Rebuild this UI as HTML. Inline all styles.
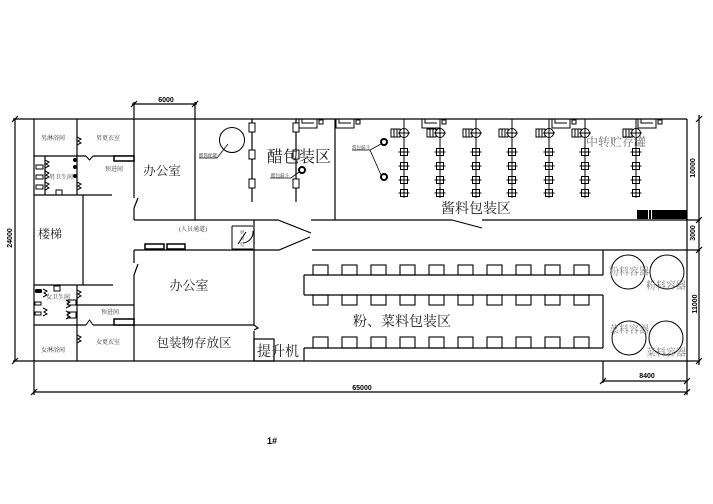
<!DOCTYPE html>
<html><head><meta charset="utf-8">
<style>
html,body{margin:0;padding:0;background:#fff;}
svg{display:block;}
.cn{font-family:"Liberation Serif","Noto Serif CJK SC",serif;}
.dim{font-family:"Liberation Sans",sans-serif;font-weight:bold;font-size:7px;}
</style></head><body>
<svg width="713" height="504" viewBox="0 0 713 504" xmlns="http://www.w3.org/2000/svg">
<rect width="713" height="504" fill="#fff"/>
<defs>
<g id="col" stroke="#000" stroke-width="1" fill="none">
<line x1="0" y1="0" x2="0" y2="79"/>
<rect x="-13" y="10" width="9" height="8" fill="#fff"/>
<line x1="-10" y1="10" x2="-10" y2="18"/><line x1="-7" y1="10" x2="-7" y2="18"/>
<circle cx="0" cy="14" r="4.5" fill="#fff"/>
<line x1="-6" y1="14" x2="6" y2="14"/><line x1="0" y1="8" x2="0" y2="20"/>
<rect x="-3.5" y="29.5" width="7" height="7" fill="#fff"/><line x1="-5.5" y1="33" x2="5.5" y2="33"/><line x1="0" y1="28" x2="0" y2="38"/>
<rect x="-3.5" y="43.5" width="7" height="7" fill="#fff"/><line x1="-5.5" y1="47" x2="5.5" y2="47"/><line x1="0" y1="42" x2="0" y2="52"/>
<rect x="-3.5" y="57.5" width="7" height="7" fill="#fff"/><line x1="-5.5" y1="61" x2="5.5" y2="61"/><line x1="0" y1="56" x2="0" y2="66"/>
<rect x="-3.5" y="70.5" width="7" height="7" fill="#fff"/><line x1="-5.5" y1="74" x2="5.5" y2="74"/><line x1="0" y1="69" x2="0" y2="79"/>
</g>
<g id="sink" stroke="#000" stroke-width="1" fill="none">
<path d="M0 0 V9 H18 V0"/><path d="M3 0 V4 H15"/>
<rect x="20" y="1" width="4" height="4"/>
</g>
</defs>

<g stroke="#000" stroke-width="1.2" fill="none">
<!-- outline & dimensions -->
<path d="M13 119 H687 M34 119 V395 M687 119 V395 M13 361 H700"/>
<path d="M15 119 V361 M12 122 L18 116 M12 364 L18 358"/>
<path d="M134 102 V119 M195 102 V119 M132 104 H197 M131 107 L137 101 M192 107 L198 101"/>
<path d="M699 115 V365 M696 122 L702 116 M696 223 L702 217 M696 253 L702 247 M696 364 L702 358 M687 220 H700 M687 250 H700"/>
<path d="M34 392 H687 M31 395 L37 389 M684 395 L690 389"/>
<path d="M603 361 V383 M603 381 H687 M600 384 L606 378 M684 384 L690 378"/>

<!-- left wing -->
<path d="M77 119 V195 M77 285 V361"/>
<path d="M34 156 H86 M93 156 H134"/>
<path d="M45 156 V195"/>
<path d="M34 195 H112"/>
<path d="M83 195 V285"/>
<path d="M34 285 H113"/>
<path d="M77 305 H134"/>
<path d="M34 325 H86 M93 325 H254"/>
<path d="M134 119 V198 M134 208 V220 M134 208 L138 198"/>
<path d="M134 250 V263 M134 275 V361 M134 275 L138 264"/>
<path d="M195 119 V220"/>
<!-- door bumps -->
<path d="M77 137 l4 2 l-3 2 l3 2 l-4 2 M77 182 l4 2 l-3 2 l3 2 l-4 2 M86 156 l3.5 4 l3.5 -4" stroke-width="1"/>
<path d="M45 160 l4 2 l-3 2 l3 2 l-4 2 M45 171 l4 2 l-3 2 l3 2 l-4 2 M45 182 l4 2 l-3 2 l3 2 l-4 2" stroke-width="1"/>
<path d="M77 290 l4 2 l-3 2 l3 2 l-4 2 M77 335 l4 2 l-3 2 l3 2 l-4 2 M86 325 l3.5 -5 l3.5 5" stroke-width="1"/>
<path d="M43 289 l4 2 l-3 2 l3 2 l-4 2 M43 308 l4 2 l-3 2 l3 2 l-4 2 M66 300 l4 2 l-3 2 l3 2 l-4 2 M66 311 l4 2 l-3 2 l3 2 l-4 2" stroke-width="1"/>
<path d="M68 300 H76 V305 H68 Z M68 312 H76 V318 H68 Z" stroke-width="1"/>
<path d="M36 165 h7 v4 h-7 z M36 175 h7 v4 h-7 z M36 185 h7 v4 h-7 z" stroke-width="1"/>
<path d="M56 190 h6 v5 h-6 z M35 302 h6 v3 h-6 z M35 312 h6 v3 h-6 z M54 286 h6 v5 h-6 z" stroke-width="1"/>

<!-- corridor -->
<path d="M134 220 H278 L311 233"/>
<path d="M134 250 H279 L310 237"/>
<path d="M311 220 H452 M482 220 H687"/>
<path d="M312 250 H687"/>
<path d="M452 220 L482 228" stroke-width="1"/>
<path d="M232 226 V249 M232 226 H253 M232 249 H253" stroke-width="1"/>
<path d="M253 231 A11 11 0 0 1 243 243 M238 244 L246 232" stroke-width="1"/>
<!-- upper left equipment lines -->
<path d="M252 119 V202 M296 119 V202"/>
<path d="M254 220 V325 M254 331 V361 M254 325 l4 3 l-4 2" />
<path d="M335 119 V220"/>
<g stroke-width="1" fill="#fff">
<rect x="249" y="123" width="6" height="9"/><rect x="249" y="150" width="6" height="9"/><rect x="249" y="179" width="6" height="9"/>
<rect x="293" y="123" width="6" height="9"/><rect x="293" y="150" width="6" height="9"/><rect x="293" y="179" width="6" height="9"/>
</g>
<circle cx="232" cy="140" r="12.5" stroke-width="1"/>
<path d="M228 144 L217 158 H199" stroke-width="0.8"/>
<circle cx="302" cy="170" r="3" stroke-width="2"/>
<path d="M299 172 L291 178 H270" stroke-width="0.8"/>
<circle cx="384" cy="142" r="3" stroke-width="2"/>
<circle cx="384" cy="177" r="3" stroke-width="2"/>
<path d="M381 144 L370 150 L381 175 M370 150 H352" stroke-width="0.8"/>

<!-- production lower -->
<path d="M304 275 H603 M304 295 H603 M304 275 V295"/>
<path d="M603 250 V275 M603 295 V348"/>
<path d="M304 348 H603 M304 348 V361"/>
<rect x="254" y="339" width="20" height="22"/>
<g stroke-width="1.1">
<rect x="313" y="265" width="15" height="10"/><rect x="342" y="265" width="15" height="10"/><rect x="371" y="265" width="15" height="10"/><rect x="400" y="265" width="15" height="10"/><rect x="429" y="265" width="15" height="10"/><rect x="458" y="265" width="15" height="10"/><rect x="487" y="265" width="15" height="10"/><rect x="516" y="265" width="15" height="10"/><rect x="545" y="265" width="15" height="10"/><rect x="574" y="265" width="15" height="10"/>
<rect x="313" y="295" width="15" height="10"/><rect x="342" y="295" width="15" height="10"/><rect x="371" y="295" width="15" height="10"/><rect x="400" y="295" width="15" height="10"/><rect x="429" y="295" width="15" height="10"/><rect x="458" y="295" width="15" height="10"/><rect x="487" y="295" width="15" height="10"/><rect x="516" y="295" width="15" height="10"/><rect x="545" y="295" width="15" height="10"/><rect x="574" y="295" width="15" height="10"/>
<rect x="313" y="337" width="15" height="11"/><rect x="342" y="337" width="15" height="11"/><rect x="371" y="337" width="15" height="11"/><rect x="400" y="337" width="15" height="11"/><rect x="429" y="337" width="15" height="11"/><rect x="458" y="337" width="15" height="11"/><rect x="487" y="337" width="15" height="11"/><rect x="516" y="337" width="15" height="11"/><rect x="545" y="337" width="15" height="11"/><rect x="574" y="337" width="15" height="11"/>
</g>
<g stroke-width="1">
<circle cx="628" cy="272" r="17"/><circle cx="667" cy="272" r="17"/>
<circle cx="629" cy="338" r="17"/><circle cx="666" cy="338" r="17"/>
</g>
</g>

<!-- columns -->
<use href="#col" x="404" y="119"/><use href="#col" x="440" y="119"/><use href="#col" x="476" y="119"/><use href="#col" x="512" y="119"/><use href="#col" x="549" y="119"/><use href="#col" x="585" y="119"/><use href="#col" x="636" y="119"/>
<use href="#sink" x="299" y="119"/><use href="#sink" x="336" y="119"/><use href="#sink" x="422" y="119"/><use href="#sink" x="552" y="119"/><use href="#sink" x="638" y="119"/>

<!-- counters -->
<g stroke="#000" stroke-width="1.5" fill="#fff">
<rect x="114" y="156" width="20" height="5"/><rect x="114" y="319" width="20" height="6"/>
<rect x="145" y="244" width="19" height="5"/><rect x="167" y="244" width="18" height="5"/>
</g>
<g fill="#000">
<circle cx="75" cy="160" r="2"/><circle cx="75" cy="167" r="2"/><circle cx="75" cy="176" r="2"/>
<rect x="35" y="289" width="7" height="4" rx="1.5"/>
<rect x="637" y="210" width="50" height="9"/>
</g>
<rect x="648" y="210" width="1" height="9" fill="#fff"/><rect x="651" y="210" width="1" height="9" fill="#fff"/>

<!-- texts -->
<g class="cn" text-anchor="middle" fill="#222">
<text x="299" y="162" font-size="16">醋包装区</text>
<text x="476" y="213" font-size="14">酱料包装区</text>
<text x="402" y="326" font-size="14">粉、菜料包装区</text>
<text x="162" y="175" font-size="12.5">办公室</text>
<text x="189" y="290" font-size="13">办公室</text>
<text x="194" y="347" font-size="12.5">包装物存放区</text>
<text x="50" y="238" font-size="12">楼梯</text>
<text x="278" y="356" font-size="14">提升机</text>
</g>
<g class="cn" text-anchor="middle" fill="#777">
<text x="616" y="146" font-size="12">中转贮存罐</text>
<text x="629" y="275" font-size="10">粉料容器</text>
<text x="666" y="289" font-size="10">粉料容器</text>
<text x="629" y="333" font-size="10">菜料容器</text>
<text x="666" y="356" font-size="10">菜料容器</text>
</g>
<g class="cn" text-anchor="middle" fill="#333" font-size="6">
<text x="53" y="140">男淋浴间</text>
<text x="108" y="140">男更衣室</text>
<text x="114" y="171">预进间</text>
<text x="61" y="179">男卫生间</text>
<text x="58" y="299">女卫生间</text>
<text x="110" y="314">预进间</text>
<text x="108" y="344">女更衣室</text>
<text x="53" y="352">女淋浴间</text>
<text x="193" y="231">(人员通道)</text>
</g>
<g class="cn" text-anchor="middle" fill="#333" font-size="4.5">
<text x="208" y="157">醋酱配罐</text>
<text x="280" y="177">醋包漏斗</text>
<text x="361" y="149">酱包漏斗</text>
<text x="242" y="234">更</text><text x="242" y="240">衣</text><text x="242" y="246">室</text>
</g>
<g class="dim" text-anchor="middle" fill="#000">
<text x="166" y="102">6000</text>
<text x="362" y="390">65000</text>
<text x="647" y="378">8400</text>
<text transform="translate(12,238) rotate(-90)">24000</text>
<text transform="translate(695,168) rotate(-90)">10000</text>
<text transform="translate(695,233) rotate(-90)">3000</text>
<text transform="translate(697,304) rotate(-90)">11000</text>
<text x="272" y="444" font-size="9">1#</text>
</g>
</svg>
</body></html>
